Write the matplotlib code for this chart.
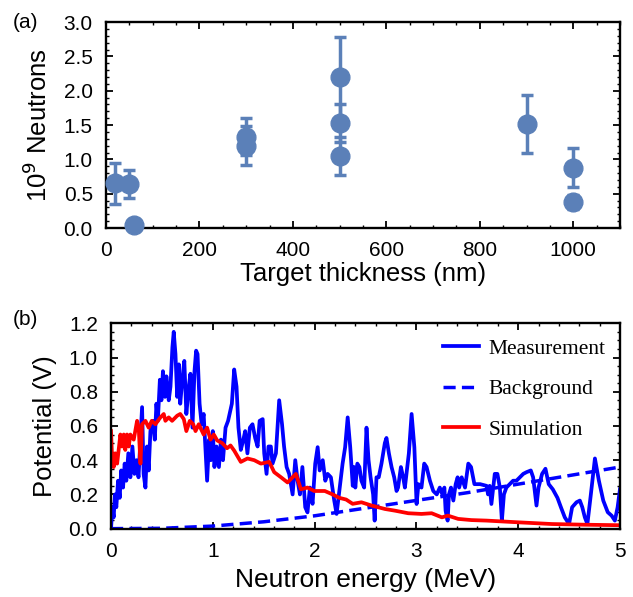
import numpy as np
import matplotlib
matplotlib.use('Agg')
from matplotlib import pyplot as plt
from matplotlib.ticker import MultipleLocator, FormatStrFormatter

# panel (a): neutron yield vs target thickness
thickness = [20, 50, 60, 300, 300, 500, 500, 500, 900, 1000, 1000]
neutrons = [0.65, 0.64, 0.05, 1.33, 1.20, 2.20, 1.53, 1.05, 1.52, 0.88, 0.38]
neutrons_err = [0.30, 0.20, 0.0, 0.27, 0.28, 0.58, 0.27, 0.27, 0.42, 0.28, 0.10]

# panel (b): measured spectrum
meas_e = [0, 0.013, 0.026, 0.039, 0.052, 0.069, 0.085, 0.10, 0.118, 0.134, 0.15, 0.17, 0.19,
          0.21, 0.23, 0.25, 0.27, 0.305, 0.32, 0.338, 0.354, 0.37, 0.387, 0.41, 0.43, 0.446,
          0.46, 0.48, 0.495, 0.51, 0.53, 0.544, 0.567, 0.584, 0.603, 0.616, 0.633, 0.65, 0.666,
          0.68, 0.70, 0.72, 0.74, 0.764, 0.78, 0.80, 0.82, 0.836, 0.85, 0.87, 0.89, 0.91, 0.93,
          0.944, 0.964, 0.98, 1.0, 1.016, 1.036, 1.06, 1.08, 1.10, 1.125, 1.15, 1.187, 1.21,
          1.233, 1.252, 1.275, 1.30, 1.318, 1.34, 1.364, 1.39, 1.416, 1.44, 1.46, 1.49, 1.505,
          1.528, 1.547, 1.57, 1.587, 1.62, 1.652, 1.68, 1.70, 1.725, 1.75, 1.784, 1.81, 1.833,
          1.856, 1.88, 1.908, 1.93, 1.954, 1.98, 2.006, 2.03, 2.05, 2.08, 2.105, 2.128, 2.16,
          2.193, 2.216, 2.243, 2.275, 2.30, 2.325, 2.35, 2.375, 2.388, 2.40, 2.42, 2.44, 2.46,
          2.487, 2.51, 2.53, 2.55, 2.575, 2.59, 2.608, 2.63, 2.657, 2.69, 2.706, 2.73, 2.756,
          2.782, 2.805, 2.82, 2.848, 2.87, 2.887, 2.903, 2.926, 2.953, 2.98, 3.002, 3.02, 3.05,
          3.077, 3.10, 3.133, 3.166, 3.2, 3.23, 3.255, 3.275, 3.287, 3.307, 3.32, 3.34, 3.363,
          3.386, 3.405, 3.42, 3.445, 3.478, 3.51, 3.537, 3.57, 3.626, 3.69, 3.704, 3.72, 3.737,
          3.77, 3.796, 3.82, 3.84, 3.86, 3.884, 3.917, 3.95, 3.983, 4.016, 4.05, 4.082, 4.124,
          4.147, 4.18, 4.2, 4.235, 4.268, 4.30, 4.34, 4.386, 4.42, 4.458, 4.50, 4.53, 4.573,
          4.606, 4.63, 4.655, 4.68, 4.714, 4.754, 4.793, 4.836, 4.88, 4.918, 4.95, 4.977, 5.0]
meas_v = [0, 0.125, 0.066, 0.20, 0.125, 0.28, 0.18, 0.34, 0.24, 0.38, 0.28, 0.44, 0.30,
          0.48, 0.32, 0.40, 0.30, 0.71, 0.32, 0.24, 0.48, 0.34, 0.57, 0.63, 0.52, 0.73,
          0.63, 0.87, 0.75, 0.92, 0.77, 0.89, 0.75, 0.83, 1.06, 1.15, 1.02, 0.77, 0.96,
          0.73, 0.87, 0.98, 0.67, 0.83, 0.905, 0.59, 0.92, 1.04, 1.02, 0.73, 0.61, 0.67, 0.44,
          0.28, 0.52, 0.40, 0.57, 0.36, 0.48, 0.36, 0.52, 0.40, 0.59, 0.63, 0.73, 0.93,
          0.83, 0.59, 0.46, 0.52, 0.57, 0.44, 0.59, 0.61, 0.53, 0.48, 0.63, 0.64, 0.44,
          0.32, 0.48, 0.48, 0.38, 0.44, 0.75, 0.61, 0.48, 0.36, 0.32, 0.20, 0.40, 0.28,
          0.20, 0.36, 0.125, 0.095, 0.24, 0.145, 0.38, 0.476, 0.34, 0.40, 0.28, 0.32, 0.30,
          0.164, 0.086, 0.22, 0.38, 0.476, 0.65, 0.476, 0.25, 0.36, 0.24, 0.38, 0.36, 0.28,
          0.24, 0.59, 0.40, 0.30, 0.20, 0.047, 0.30, 0.30, 0.38, 0.50, 0.53, 0.44, 0.36,
          0.30, 0.22, 0.24, 0.36, 0.30, 0.24, 0.32, 0.44, 0.67, 0.476, 0.144, 0.26, 0.24,
          0.38, 0.36, 0.28, 0.22, 0.20, 0.24, 0.20, 0.24, 0.105, 0.047, 0.20, 0.24, 0.164,
          0.26, 0.30, 0.24, 0.30, 0.24, 0.38, 0.36, 0.26, 0.26, 0.25, 0.20, 0.25, 0.144,
          0.32, 0.32, 0.24, 0.047, 0.20, 0.24, 0.26, 0.28, 0.28, 0.30, 0.32, 0.33, 0.34,
          0.30, 0.135, 0.24, 0.32, 0.35, 0.26, 0.23, 0.18, 0.125, 0.066, 0.027, 0.125, 0.154,
          0.164, 0.125, 0.066, 0.027, 0.20, 0.41, 0.28, 0.164, 0.096, 0.076, 0.047, 0.125, 0.23]

bg_e = [0, 0.5, 1.0, 1.5, 2.0, 2.5, 3.0, 3.5, 4.0, 4.5, 5.0]
bg_v = [0, 0.002, 0.015, 0.04, 0.075, 0.12, 0.165, 0.21, 0.26, 0.31, 0.36]

sim_e = [0, 0.01, 0.026, 0.043, 0.06, 0.075, 0.092, 0.108, 0.125, 0.14, 0.157, 0.174, 0.19,
         0.223, 0.256, 0.272, 0.289, 0.305, 0.338, 0.37, 0.40, 0.436, 0.485, 0.518, 0.534,
         0.567, 0.60, 0.65, 0.68, 0.715, 0.74, 0.774, 0.807, 0.83, 0.862, 0.91, 0.944, 0.977,
         1.01, 1.043, 1.092, 1.14, 1.174, 1.21, 1.275, 1.34, 1.407, 1.472, 1.554, 1.603, 1.67,
         1.734, 1.816, 1.866, 1.93, 1.997, 2.10, 2.177, 2.243, 2.31, 2.374, 2.46, 2.56, 2.69,
         2.79, 2.92, 3.05, 3.15, 3.25, 3.31, 3.41, 3.54, 3.69, 4.0, 4.33, 4.65, 5.0]
sim_v = [0.57, 0.42, 0.36, 0.44, 0.38, 0.46, 0.55, 0.48, 0.55, 0.46, 0.55, 0.48, 0.55,
         0.52, 0.63, 0.59, 0.38, 0.61, 0.63, 0.59, 0.63, 0.61, 0.65, 0.67, 0.63,
         0.65, 0.63, 0.66, 0.67, 0.64, 0.57, 0.63, 0.61, 0.57, 0.61, 0.55, 0.59, 0.52,
         0.55, 0.515, 0.50, 0.47, 0.486, 0.456, 0.39, 0.41, 0.40, 0.38, 0.39, 0.33, 0.30,
         0.27, 0.32, 0.23, 0.24, 0.22, 0.22, 0.20, 0.18, 0.17, 0.145, 0.154, 0.135, 0.115,
         0.105, 0.09, 0.086, 0.09, 0.066, 0.076, 0.057, 0.05, 0.047, 0.037, 0.027, 0.023, 0.02]

plt.rcParams['font.family'] = ['Liberation Sans', 'DejaVu Sans']

fig = plt.figure(figsize=(6.33, 5.97), dpi=100)
ax1 = fig.add_axes([0.1675, 0.618, 0.812, 0.345])
ax2 = fig.add_axes([0.1754, 0.1145, 0.804, 0.344])


def frame(ax):
    for s in ax.spines.values():
        s.set_linewidth(1.7)
    ax.tick_params(which='both', direction='in', top=True, right=True, labelsize=15)
    ax.tick_params(axis='x', pad=9.5)
    ax.tick_params(axis='y', pad=9.5)
    ax.tick_params(which='major', length=5, width=1.3)
    ax.tick_params(which='minor', length=2.5, width=1.0)


dot = '#5b80b8'
ax1.errorbar(thickness, neutrons, yerr=neutrons_err, fmt='o', color=dot, ms=13.5,
             elinewidth=2.5, capsize=4, capthick=2.5, clip_on=False, zorder=3)
ax1.set_xlim(0, 1100)
ax1.set_ylim(0, 3)
ax1.xaxis.set_major_locator(MultipleLocator(200))
ax1.xaxis.set_minor_locator(MultipleLocator(50))
ax1.yaxis.set_major_locator(MultipleLocator(0.5))
ax1.yaxis.set_minor_locator(MultipleLocator(0.1))
ax1.yaxis.set_major_formatter(FormatStrFormatter('%.1f'))
ax1.set_xlabel('Target thickness (nm)', fontsize=18.5, labelpad=1)
ax1.set_ylabel('10$^9$ Neutrons', fontsize=18.5, labelpad=8)
frame(ax1)

ax2.plot(meas_e, meas_v, color='#0000ff', lw=2.7, label='Measurement')
ax2.plot(bg_e, bg_v, color='#0000ff', lw=2.5, ls=(0, (3.5, 1.8)), label='Background')
ax2.plot(sim_e, sim_v, color='#ff0000', lw=2.7, label='Simulation')
ax2.set_xlim(0, 5)
ax2.set_ylim(0, 1.2)
ax2.xaxis.set_major_locator(MultipleLocator(1))
ax2.xaxis.set_minor_locator(MultipleLocator(0.2))
ax2.yaxis.set_major_locator(MultipleLocator(0.2))
ax2.yaxis.set_minor_locator(MultipleLocator(0.05))
ax2.yaxis.set_major_formatter(FormatStrFormatter('%.1f'))
ax2.set_xlabel('Neutron energy (MeV)', fontsize=19, labelpad=5.5)
ax2.set_ylabel('Potential (V)', fontsize=18.5, labelpad=8)
frame(ax2)
ax2.legend(loc='upper left', frameon=False, prop={'family': 'Liberation Serif', 'size': 15.5},
           handlelength=1.67, handletextpad=0.47, labelspacing=0.95,
           borderaxespad=0, borderpad=0.4, bbox_to_anchor=(0.635, 0.968))

fig.text(0.02, 0.963, '(a)', fontsize=15, va='center')
fig.text(0.02, 0.464, '(b)', fontsize=15, va='center')

fig.savefig('out.png', dpi=100)
